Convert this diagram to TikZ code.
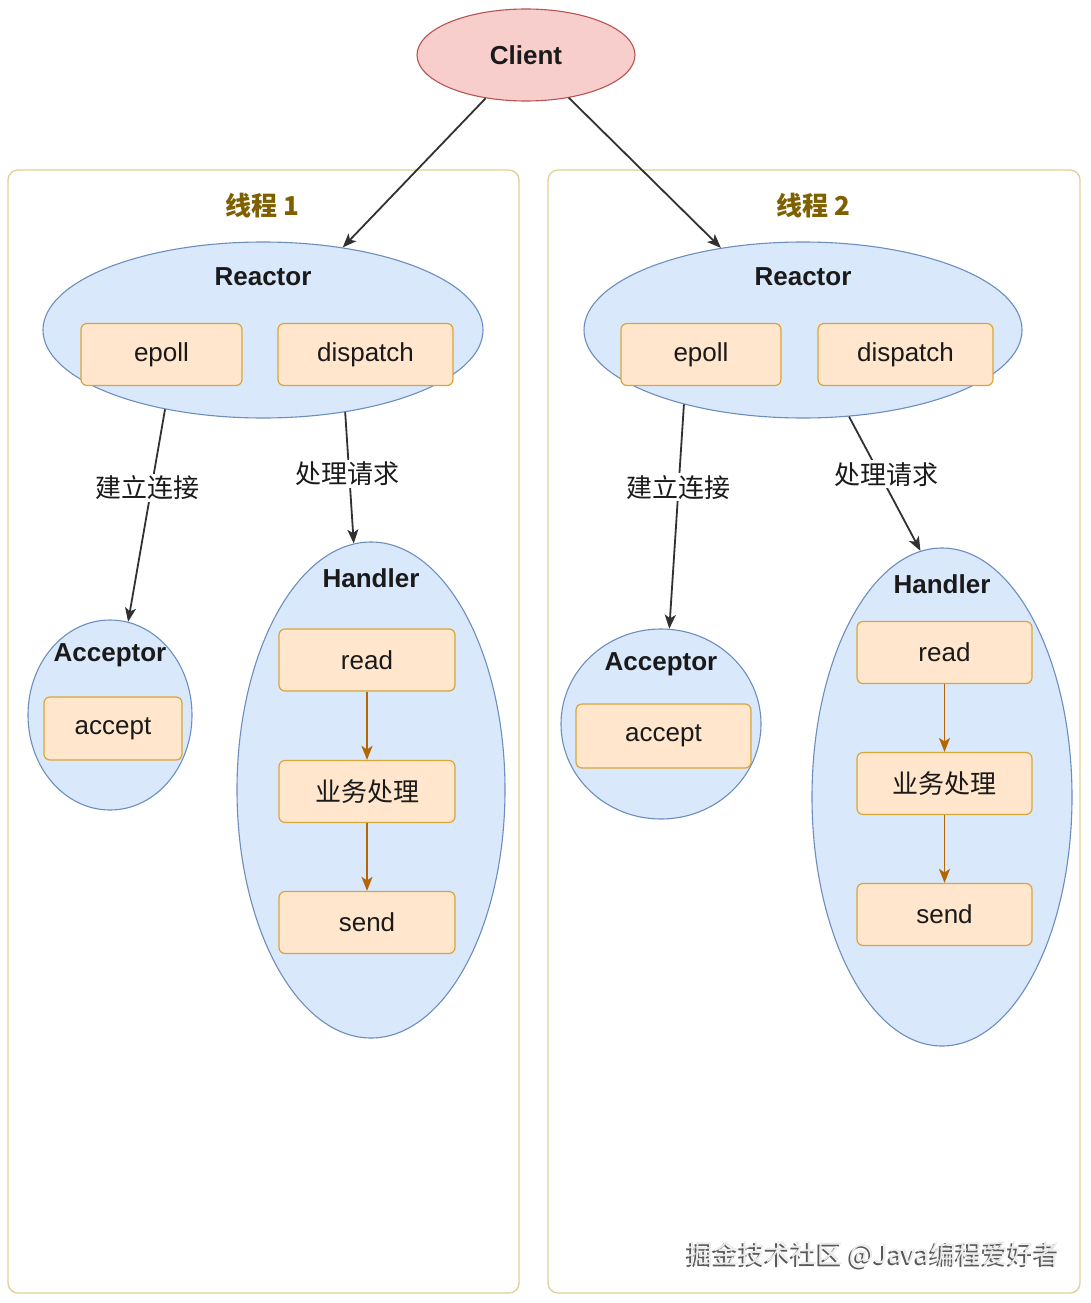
\documentclass[tikz,border=0pt]{standalone}
\usepackage{fontspec}
\setmainfont{Liberation Sans}
\newfontfamily\cjk{Noto Sans CJK SC}
\usetikzlibrary{shapes.geometric,arrows.meta}
\definecolor{cliF}{HTML}{F8CECC}
\definecolor{cliS}{HTML}{B85450}
\definecolor{bluF}{HTML}{DAE8FC}
\definecolor{bluS}{HTML}{6C8EBF}
\definecolor{orF}{HTML}{FFE6CC}
\definecolor{orS}{HTML}{D9A63A}
\definecolor{conS}{HTML}{DCD296}
\definecolor{ttlC}{HTML}{7F6000}
\definecolor{arrO}{HTML}{B46504}
\definecolor{txt}{HTML}{1A1A1A}
\begin{document}
\begin{tikzpicture}[x=1pt,y=-1pt,
  container/.style={draw=conS, line width=1.3pt, rounded corners=10pt, fill=white, minimum width=511pt, minimum height=1123pt, inner sep=0pt},
  blob/.style={ellipse, draw=bluS, fill=bluF, line width=1.1pt, inner sep=0pt},
  box/.style={rectangle, rounded corners=6pt, draw=orS, fill=orF, line width=1.2pt, inner sep=0pt, minimum height=62pt, text=txt, font=\fontsize{26}{30}\selectfont},
  hd/.style={text=txt, font=\fontsize{26}{30}\selectfont\bfseries, inner sep=0pt},
  ttl/.style={text=ttlC, font=\fontsize{26}{30}\selectfont\cjk\bfseries, inner sep=0pt},
  conn/.style={draw=txt!90, line width=1.8pt, -{Stealth[length=14pt,width=11pt,inset=3.5pt]}},
  oconn/.style={draw=arrO, line width=1.8pt, -{Stealth[length=14pt,width=11pt,inset=3.5pt]}},
  elabel/.style={fill=white, text=txt, inner sep=2pt, font=\fontsize{26}{30}\selectfont\cjk}
]
\useasboundingbox (0,0) rectangle (1090,1303);
\fill[white] (0,0) rectangle (1090,1303);

% containers
\node[container] (thread1) at (263.5,731.5) {};
\node[container, minimum width=532pt] (thread2) at (814,731.5) {};
\node[ttl] (t1) at (262,206) {线程 1};
\node[ttl] (t2) at (813,206) {线程 2};

% client
\node[ellipse, draw=cliS, fill=cliF, line width=1.1pt, minimum width=218pt, minimum height=92pt, inner sep=0pt, text=txt, font=\fontsize{26}{30}\selectfont\bfseries] (client) at (526,55) {Client};

% thread 1
\node[blob, minimum width=440pt, minimum height=176pt] (reactor1) at (263,330) {};
\node[hd] (r1t) at (263,277) {Reactor};
\node[box, minimum width=161pt] (epoll1) at (161.5,354.5) {epoll};
\node[box, minimum width=175pt] (disp1) at (365.5,354.5) {dispatch};

\node[blob, minimum width=164pt, minimum height=190pt] (acceptor1) at (110,715) {};
\node[hd] (a1t) at (110,655) {Acceptor};
\node[box, minimum width=138pt, minimum height=63pt] (accept1) at (113,728.5) {accept};

\node[blob, minimum width=268pt, minimum height=496pt] (handler1) at (371,790) {};
\node[hd] (h1t) at (371,578) {Handler};
\node[box, minimum width=176pt] (read1) at (367,660) {read};
\node[box, minimum width=176pt, font=\fontsize{26}{30}\selectfont\cjk] (biz1) at (367,791.5) {业务处理};
\node[box, minimum width=176pt] (send1) at (367,922.5) {send};

% thread 2
\node[blob, minimum width=438pt, minimum height=176pt] (reactor2) at (803,330) {};
\node[hd] (r2t) at (803,277) {Reactor};
\node[box, minimum width=160pt] (epoll2) at (701,354.5) {epoll};
\node[box, minimum width=175pt] (disp2) at (905.5,354.5) {dispatch};

\node[blob, minimum width=200pt, minimum height=190pt] (acceptor2) at (661,724) {};
\node[hd] (a2t) at (661,664) {Acceptor};
\node[box, minimum width=175pt, minimum height=64pt] (accept2) at (663.5,736) {accept};

\node[blob, minimum width=260pt, minimum height=498pt] (handler2) at (942,797) {};
\node[hd] (h2t) at (942,584) {Handler};
\node[box, minimum width=175pt] (read2) at (944.5,652.5) {read};
\node[box, minimum width=175pt, font=\fontsize{26}{30}\selectfont\cjk] (biz2) at (944.5,783.5) {业务处理};
\node[box, minimum width=175pt] (send2) at (944.5,914.5) {send};

% connectors
\draw[conn] (client.227) -- (reactor1.46);
\draw[conn] (client.-45) -- (reactor2.135);

\draw[conn] (reactor1.219) -- node[elabel, pos=0.37, xshift=-4pt] (lb1) {建立连接} (acceptor1.79);
\draw[conn] (reactor1.-45) -- node[elabel, pos=0.47, xshift=-2pt] (lb2) {处理请求} (handler1.94);
\draw[conn] (reactor2.212) -- node[elabel, pos=0.37] (lb3) {建立连接} (acceptor2.85);
\draw[conn] (reactor2.-62) -- node[elabel, pos=0.43, xshift=7pt] (lb4) {处理请求} (handler2.95);

\draw[oconn] (read1) -- (biz1);
\draw[oconn] (biz1) -- (send1);
\draw[oconn] (read2) -- (biz2);
\draw[oconn] (biz2) -- (send2);

% watermark
\node[text=black!65, font=\fontsize{26}{30}\selectfont\cjk, inner sep=0pt] (wmshadow) at (872,1257) {掘金技术社区 @Java编程爱好者};
\node[text=black!8, font=\fontsize{26}{30}\selectfont\cjk, inner sep=0pt] (wm) at (874,1255) {掘金技术社区 @Java编程爱好者};
\end{tikzpicture}
\end{document}
